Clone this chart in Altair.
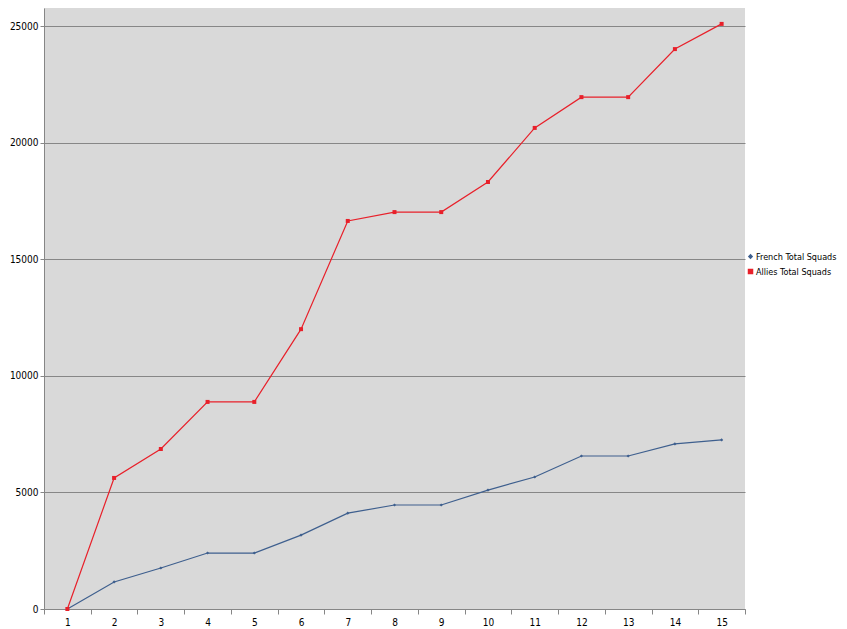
import altair as alt
import pandas as pd

categories = list(range(1, 16))
french = [0, 1160, 1760, 2400, 2400, 3170, 4110, 4460, 4460, 5100, 5660, 6560, 6560, 7080, 7250]
allies = [0, 5620, 6860, 8880, 8880, 12000, 16640, 17020, 17020, 18310, 20630, 21950, 21950, 24010, 25090]
series_names = ["French Total Squads", "Allies Total Squads"]
series_colors = ["#3E5F8E", "#E8202A"]
y_ticks = [0, 5000, 10000, 15000, 20000, 25000]

rows = []
for i, c in enumerate(categories):
    rows.append({"x": str(c), "v": french[i], "s": series_names[0]})
    rows.append({"x": str(c), "v": allies[i], "s": series_names[1]})
df = pd.DataFrame(rows)

W, H = 701, 601
ymax = 25000 * H / 583.0
FONT = "DejaVu Sans Condensed, sans-serif"

xenc = alt.X("x:N", sort=[str(c) for c in categories], title=None,
             scale=alt.Scale(paddingInner=0, paddingOuter=0),
             axis=alt.Axis(labelAngle=0, labelFont=FONT, labelFontSize=10,
                           labelColor="#000", domainColor="#868686", tickColor="#868686",
                           tickBand="extent", tickSize=5, labelPadding=3, grid=False))
yenc = alt.Y("v:Q", title=None,
             scale=alt.Scale(domain=[0, ymax], nice=False, zero=True),
             axis=alt.Axis(values=y_ticks, format="d", labelFont=FONT, labelFontSize=10,
                           labelColor="#000", domainColor="#868686", tickColor="#868686",
                           tickSize=4, labelPadding=2, grid=True, gridColor="#878787",
                           gridWidth=1))
color = alt.Color("s:N", sort=series_names,
                  scale=alt.Scale(domain=series_names, range=series_colors),
                  legend=alt.Legend(title=None, orient="none", legendX=702, legendY=244,
                                    labelFont=FONT, labelFontSize=9, labelColor="#000",
                                    symbolType="M-1,0L1,0M-0.3,-0.3L0.3,-0.3L0.3,0.3L-0.3,0.3Z",
                                    symbolSize=100, symbolStrokeWidth=1.5, labelOffset=1,
                                    rowPadding=4))

base = alt.Chart(df).encode(x=xenc, y=yenc)
lines = base.mark_line(strokeWidth=1.2).encode(color=color)
pts = base.mark_point(filled=True, opacity=1).encode(
    fill=alt.Fill("s:N", scale=alt.Scale(domain=series_names, range=series_colors), legend=None),
    shape=alt.Shape("s:N", scale=alt.Scale(domain=series_names, range=["diamond", "square"]), legend=None),
    size=alt.Size("s:N", scale=alt.Scale(domain=series_names, range=[10, 16]), legend=None),
)

chart = (lines + pts).properties(
    width=W, height=H,
    autosize=alt.AutoSizeParams(type="none"),
    padding={"left": 36, "top": 0, "right": 94, "bottom": 20},
    background="white",
).configure_view(fill="#D9D9D9", stroke=None)

chart.save("out.html", embed_options={"renderer": "svg", "actions": False})
